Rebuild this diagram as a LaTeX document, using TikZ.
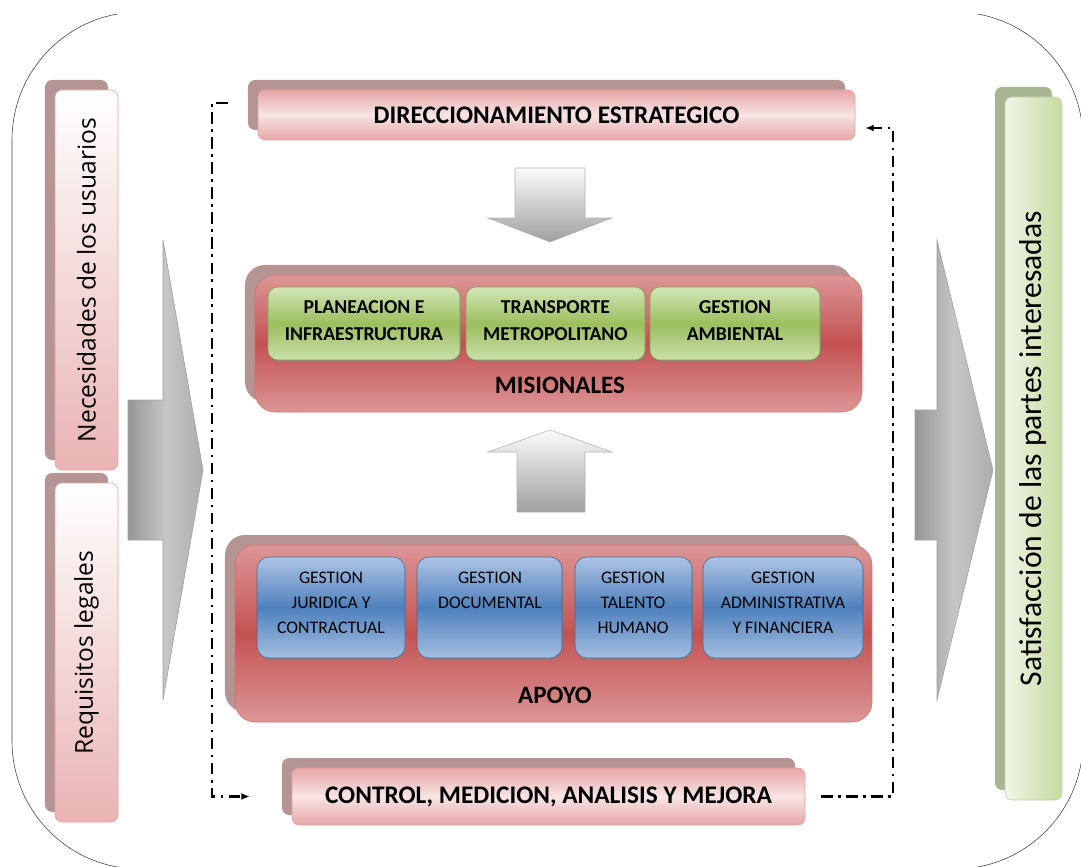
\documentclass[tikz,border=0pt]{standalone}
\usepackage{fontspec}
\setmainfont{Carlito}
\newfontfamily\opensans{Open Sans}
\usetikzlibrary{fit,shadows,arrows.meta}

\definecolor{pinkshadow}{HTML}{B59494}
\definecolor{pinkA}{HTML}{E6A6A6}
\definecolor{pinkB}{HTML}{F8E4E4}
\definecolor{pinkedge}{HTML}{E2A0A0}
\definecolor{redA}{HTML}{DC9696}
\definecolor{redB}{HTML}{C45252}
\definecolor{rededge}{HTML}{D27070}
\definecolor{greenA}{HTML}{D2E5B6}
\definecolor{greenB}{HTML}{9CBF5E}
\definecolor{greenedge}{HTML}{7F9F55}
\definecolor{blueA}{HTML}{ADC4E4}
\definecolor{blueB}{HTML}{4F81BD}
\definecolor{blueedge}{HTML}{3F6A9A}
\definecolor{paleg}{HTML}{F0F6E6}
\definecolor{midg}{HTML}{C6DAA0}
\definecolor{greenshadow}{HTML}{A8B592}

\begin{document}
\begin{tikzpicture}[x=0.025cm, y=-0.025cm,
  backbox/.style={drop shadow={shadow xshift=-0.25cm, shadow yshift=0.25cm, fill=#1, opacity=1}},
  bar/.style={inner sep=0pt, rounded corners=5pt, draw=pinkedge, top color=pinkA, bottom color=pinkA, middle color=pinkB, backbox=pinkshadow},
  bartext/.style={font=\fontsize{18}{21}\selectfont\bfseries},
  sidebar/.style={inner sep=0pt, rounded corners=5pt, draw=pinkedge, top color=white, bottom color=pinkA!85, backbox=pinkshadow},
  panel/.style={inner sep=0pt, rounded corners=0.5cm, draw=rededge, top color=redA, bottom color=redA, middle color=redB, backbox=pinkshadow},
  greenbox/.style={inner sep=0pt, rounded corners=0.25cm, draw=greenedge, top color=greenA, bottom color=greenA!85!greenB, middle color=greenB, drop shadow={shadow xshift=0.6pt, shadow yshift=-1.5pt, opacity=.5}},
  greentext/.style={align=center, font=\fontsize{14}{19.5}\selectfont\bfseries},
  bluebox/.style={inner sep=0pt, rounded corners=0.3cm, draw=blueedge, top color=blueA, bottom color=blueA!90!blueB, middle color=blueB, drop shadow={shadow xshift=0.6pt, shadow yshift=-1.5pt, opacity=.5}},
  bluetext/.style={anchor=north, align=center, inner sep=0pt, font=\fontsize{12.6}{17.8}\selectfont},
  paneltext/.style={font=\fontsize{17.8}{21}\selectfont\bfseries},
  loopline/.style={line width=1.7pt, dash pattern=on 8pt off 4pt on 1.8pt off 4pt},
  blockarrow/.style={draw=gray!75, left color=gray!82, right color=gray!64, middle color=gray!45}]

\useasboundingbox (0,0) rectangle (1081,867);
\begin{scope}
\clip (0,15) rectangle (1081,866);
\draw[gray!50!black, rounded corners=3.2cm] (12,12) rectangle (1083,869);
\end{scope}

% left column
\node[sidebar, fit={(55,90) (118,470)}] (nec) {};
\node[rotate=90] (nectext) at (nec.center) {\opensans\fontsize{17.5}{21}\selectfont Necesidades de los usuarios};
\node[sidebar, fit={(55,483) (118,822)}] (req) {};
\node[rotate=90] (reqtext) at (req.center) {\opensans\fontsize{17.5}{21}\selectfont Requisitos legales};

% right column
\node[inner sep=0pt, rounded corners=5pt, draw=greenedge!50, left color=paleg, right color=midg, backbox=greenshadow, fit={(1005,97) (1062,800)}] (sat) {};
\node[rotate=90] (sattext) at (sat.center) {\fontsize{22.5}{26}\selectfont Satisfacción de las partes interesadas};

% big arrows
\shade[blockarrow]
  (128,400) -- (163,400) -- (163,240) -- (203,470) -- (163,700) -- (163,540) -- (128,540) -- cycle;
\shade[blockarrow]
  (915,410) -- (937,410) -- (937,240) -- (993,470) -- (937,700) -- (937,540) -- (915,540) -- cycle;

% centre
\node[bar, fit={(258,90) (855,140)}] (dir) {};
\node[bartext] (dirtext) at (dir.center) {DIRECCIONAMIENTO ESTRATEGICO};
\shade[draw=gray!60, top color=gray!3, bottom color=gray!75]
  (515,168) -- (585,168) -- (585,218) -- (612,218) -- (550,242) -- (488,218) -- (515,218) -- cycle;

\node[panel, fit={(255,275) (862,412)}] (mis) {};
\node[greenbox, fit={(268,287) (460,360)}] (g1) {};
\node[greenbox, fit={(466,287) (645,360)}] (g2) {};
\node[greenbox, fit={(650,287) (820,360)}] (g3) {};
\node[greentext] (g1text) at ([yshift=2pt]g1.center) {PLANEACION E\\INFRAESTRUCTURA};
\node[greentext] (g2text) at ([yshift=2pt]g2.center) {TRANSPORTE\\METROPOLITANO};
\node[greentext] (g3text) at ([yshift=2pt]g3.center) {GESTION\\AMBIENTAL};
\node[paneltext] (mistext) at (560,385) {MISIONALES};

\shade[draw=gray!60, top color=gray!3, bottom color=gray!75]
  (517,512) -- (585,512) -- (585,452) -- (612,452) -- (550,430) -- (488,452) -- (517,452) -- cycle;

\node[panel, fit={(235,545) (872,722)}] (apo) {};
\node[bluebox, fit={(257,557) (405,658)}] (b1) {};
\node[bluebox, fit={(417,557) (562,658)}] (b2) {};
\node[bluebox, fit={(575,557) (692,658)}] (b3) {};
\node[bluebox, fit={(703,557) (863,658)}] (b4) {};
\node[bluetext] (b1text) at (331,572) {GESTION\\JURIDICA Y\\CONTRACTUAL};
\node[bluetext] (b2text) at (490,572) {GESTION\\DOCUMENTAL};
\node[bluetext] (b3text) at (633,572) {GESTION\\TALENTO\\HUMANO};
\node[bluetext] (b4text) at (783,572) {GESTION\\ADMINISTRATIVA\\Y FINANCIERA};
\node[paneltext] (apotext) at (555,695) {APOYO};

\node[bar, fit={(292,768) (805,825)}] (ctrl) {};
\node[bartext] (ctrltext) at (ctrl.center) {CONTROL, MEDICION, ANALISIS Y MEJORA};

% feedback loop
\coordinate (cl) at (212,103);
\coordinate (cr) at (893,128);
\draw[loopline, -{Latex[length=6pt,width=5pt]}, shorten <=0.75cm, shorten >=1.05cm]
  (cl -| dir.west) -- (cl) |- (ctrl.west);
\draw[loopline, -{Latex[length=6pt,width=5pt]}, shorten <=0.4cm, shorten >=0.25cm]
  (ctrl.east) -| (cr) -- (cr -| dir.east);

\end{tikzpicture}
\end{document}
